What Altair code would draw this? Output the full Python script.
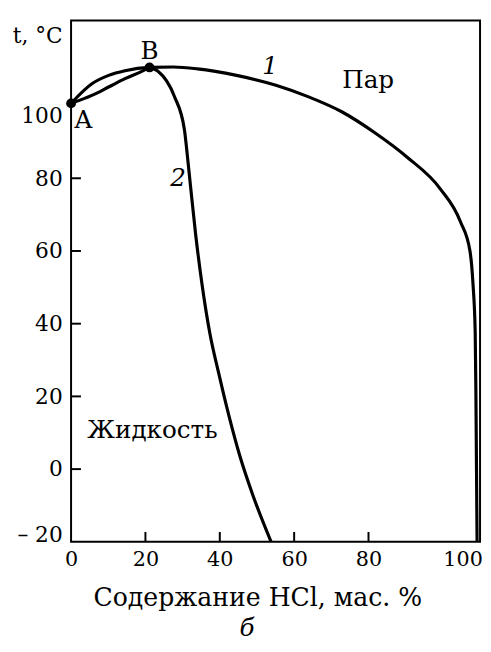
import altair as alt
import pandas as pd

# ---- data ----
# curve 1 (vapour / dew curve): A -> B -> right side
c1_x = [0, 5.6, 10.1, 14.5, 21.1, 27.5, 34.0, 44.5, 55.1, 63.9, 72.8, 81.6, 90.4, 99.3, 104.7, 107.3, 108.1, 108.7, 108.9, 109.2]
c1_y = [100.6, 106.0, 108.3, 109.6, 110.5, 110.6, 110.1, 108.3, 105.6, 102.4, 98.3, 92.6, 85.8, 77.1, 68.1, 59.9, 51.0, 37.5, 19.3, -20]
# curve 2 (liquid / boiling curve): A -> B (lower branch)
c2a_x = [0, 5.6, 10.1, 14.5, 19.0, 21.1]
c2a_y = [100.6, 102.8, 105.1, 107.4, 109.4, 110.5]
# curve 2 below B
c2b_x = [21.1, 23.3, 27.8, 30.5, 31.2, 32.1, 33.5, 35.2, 37.3, 39.8, 42.5, 45.4, 48.8, 53.8]
c2b_y = [110.5, 109.5, 102.5, 93.3, 87.0, 78.1, 64.6, 51.0, 37.5, 26.0, 14.5, 3.6, -6.9, -20]

pt_name = ["A", "B"]
pt_x = [0, 21.1]
pt_y = [100.6, 110.5]

lab_text = ["Пар", "Жидкость", "A", "B"]
lab_x = [79.9, 21.9, 3.3, 21.1]
lab_y = [104.9, 8.5, 93.8, 112.8]

num_text = ["1", "2"]
num_x = [53.5, 28.8]
num_y = [108.6, 77.9]

x_label_vals = [0, 20, 40, 60, 80, 100]
y_label_vals = [-20, 0, 20, 40, 60, 80, 100]
x_tick_vals = [20, 40, 60, 80]
y_tick_vals = [0, 20, 40, 60, 80]

x_title = "Содержание HCl, мас. %"
y_title = "t, °C"
sub_title = "б"

# ---- tables ----
rows = []
for seg, xs_, ys_ in [("1", c1_x, c1_y), ("2a", c2a_x, c2a_y), ("2b", c2b_x, c2b_y)]:
    for i, (a, b) in enumerate(zip(xs_, ys_)):
        rows.append({"seg": seg, "ord": i, "x": a, "y": b})
lines_df = pd.DataFrame(rows)
pts_df = pd.DataFrame({"name": pt_name, "x": pt_x, "y": pt_y})
lab_df = pd.DataFrame({"t": lab_text, "x": lab_x, "y": lab_y})
num_df = pd.DataFrame({"t": num_text, "x": num_x, "y": num_y})
xt_df = pd.DataFrame({"v": x_tick_vals})
yt_df = pd.DataFrame({"v": y_tick_vals})

W, H = 415, 529
FONT = "DejaVu Serif"

xs = alt.Scale(domain=[0, 110], nice=False, zero=False)
ys = alt.Scale(domain=[-20, 123.4], nice=False, zero=False)

x_axis = alt.Axis(
    values=x_label_vals, ticks=False, domain=False, grid=False,
    labelFont=FONT, labelFontSize=21, labelColor="black", labelPadding=7,
    labelAlign={"condition": {"test": "datum.value == 100", "value": "left"}, "value": "center"},
    labelFlush=False, labelOverlap=False,
    title=x_title, titleFont=FONT, titleFontSize=25.5, titleFontWeight="normal",
    titleColor="black", titleX=189, titleY=65, titleBaseline="alphabetic",
    titleAnchor="middle", titleAlign="center",
)
y_axis = alt.Axis(
    values=y_label_vals, ticks=False, domain=False, grid=False,
    labelFont=FONT, labelFontSize=22, labelColor="black", labelPadding=9,
    labelExpr="datum.value < 0 ? '\u2013 20' : datum.label",
    labelBaseline={"condition": [
        {"test": "datum.value == 100", "value": "top"},
        {"test": "datum.value < 0", "value": "alphabetic"}],
        "value": "middle"},
    labelFlush=False, labelOverlap=False,
    title=y_title, titleFont=FONT, titleFontSize=22, titleFontWeight="normal",
    titleColor="black", titleAngle=0, titleX=-9, titleY=22,
    titleAlign="right", titleBaseline="alphabetic",
)

lines = alt.Chart(lines_df).mark_line(
    interpolate="monotone", color="black", strokeWidth=3.2, strokeCap="round", clip=True
).encode(
    x=alt.X("x:Q", scale=xs, axis=x_axis),
    y=alt.Y("y:Q", scale=ys, axis=y_axis),
    detail="seg:N",
    order="ord:Q",
)

points = alt.Chart(pts_df).mark_circle(size=100, color="black", opacity=1).encode(
    x=alt.X("x:Q", scale=xs), y=alt.Y("y:Q", scale=ys)
)

labels = alt.Chart(lab_df).mark_text(
    font=FONT, fontSize=25, color="black", align="center", baseline="alphabetic"
).encode(x=alt.X("x:Q", scale=xs), y=alt.Y("y:Q", scale=ys), text="t:N")

nums = alt.Chart(num_df).mark_text(
    font=FONT, fontSize=25, fontStyle="italic", color="black", align="center", baseline="alphabetic"
).encode(x=alt.X("x:Q", scale=xs), y=alt.Y("y:Q", scale=ys), text="t:N")

xticks = alt.Chart(xt_df).mark_rule(color="black", strokeWidth=2).encode(
    x=alt.X("v:Q", scale=xs), y=alt.value(H), y2=alt.value(H - 10)
)
yticks = alt.Chart(yt_df).mark_rule(color="black", strokeWidth=2).encode(
    y=alt.Y("v:Q", scale=ys), x=alt.value(0), x2=alt.value(10)
)

chart = alt.layer(lines, xticks, yticks, points, labels, nums).properties(
    width=W, height=H,
    autosize=alt.AutoSizeParams(type="none"),
    padding={"left": 64, "top": 8, "right": 3, "bottom": 98},
    background="white",
    title=alt.TitleParams(
        sub_title, orient="bottom", font=FONT, fontSize=25, fontStyle="italic",
        fontWeight="normal", color="black", dx=-29, offset=5, anchor="middle",
    ),
).configure_view(stroke="black", strokeWidth=2)

chart.save("out.html", embed_options={"renderer": "svg", "actions": False})
